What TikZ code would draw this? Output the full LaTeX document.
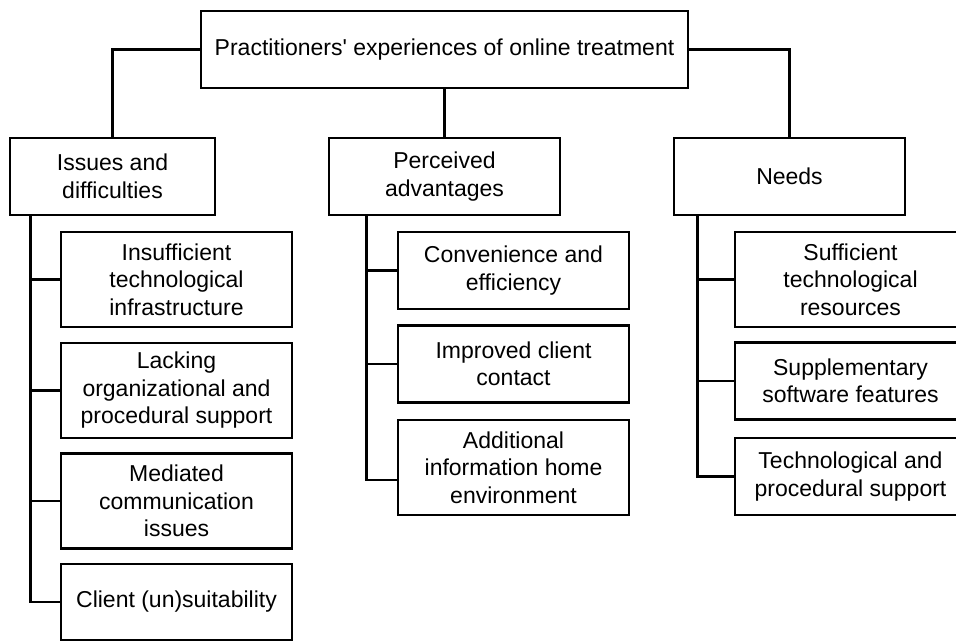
\documentclass[tikz,border=0pt]{standalone}
\usepackage{fontspec}
\setmainfont{Liberation Sans}
\usepackage{tikz}

\begin{document}
\begin{tikzpicture}[x=1pt, y=-1pt, line width=2.8pt,
	topic/.style={draw, line width=2.8pt, inner sep=0pt, align=center,
		minimum width=231pt, minimum height=77pt,
		font=\fontsize{23}{27.5}\selectfont}]
	\useasboundingbox (0,0) rectangle (956,641);
	\node [topic, minimum width=487pt] (root) at (444.5,49.5) {Practitioners\textquotesingle{} experiences of online treatment};
	\node [topic, minimum width=205pt] (iss) at (112.5,176.5) {Issues and\\difficulties};
	\node [topic] (perc) at (444.5,176.5) {Perceived\\advantages};
	\node [topic] (needs) at (789.5,176.5) {Needs};
	\node [topic, minimum height=95pt] (ins) at (176.5,279.5) {Insufficient\\technological\\infrastructure};
	\node [topic, minimum height=95pt] (lack) at (176.5,390.5) {Lacking\\organizational and\\procedural support};
	\node [topic, minimum height=95pt] (med) at (176.5,501) {Mediated\\communication\\issues};
	\node [topic, minimum height=76pt] (cli) at (176.5,602) {Client (un)suitability};
	\node [topic] (conv) at (513.5,270.5) {Convenience and\\efficiency};
	\node [topic] (imp) at (513.5,364) {Improved client\\contact};
	\node [topic, minimum height=95pt] (add) at (513.5,467.5) {Additional\\information home\\environment};
	\node [topic, minimum height=95pt] (suff) at (850.5,279.5) {Sufficient\\technological\\resources};
	\node [topic] (supp) at (850.5,381) {Supplementary\\software features};
	\node [topic] (tech) at (850.5,476.5) {Technological and\\procedural support};
	\draw (root.west) -| (iss.north);
	\draw (root.south) -- (perc.north);
	\draw (root.east) -| (needs.north);
	\draw ([xshift=22pt]iss.south west) |- (ins.west);
	\draw ([xshift=22pt]iss.south west) |- (lack.west);
	\draw ([xshift=22pt]iss.south west) |- (med.west);
	\draw ([xshift=22pt]iss.south west) |- (cli.west);
	\draw ([xshift=39pt]perc.south west) |- (conv.west);
	\draw ([xshift=39pt]perc.south west) |- (imp.west);
	\draw ([xshift=39pt]perc.south west) |- ([yshift=-12.5pt]add.west);
	\draw ([xshift=25pt]needs.south west) |- (suff.west);
	\draw ([xshift=25pt]needs.south west) |- (supp.west);
	\draw ([xshift=25pt]needs.south west) |- (tech.west);
\end{tikzpicture}
\end{document}
